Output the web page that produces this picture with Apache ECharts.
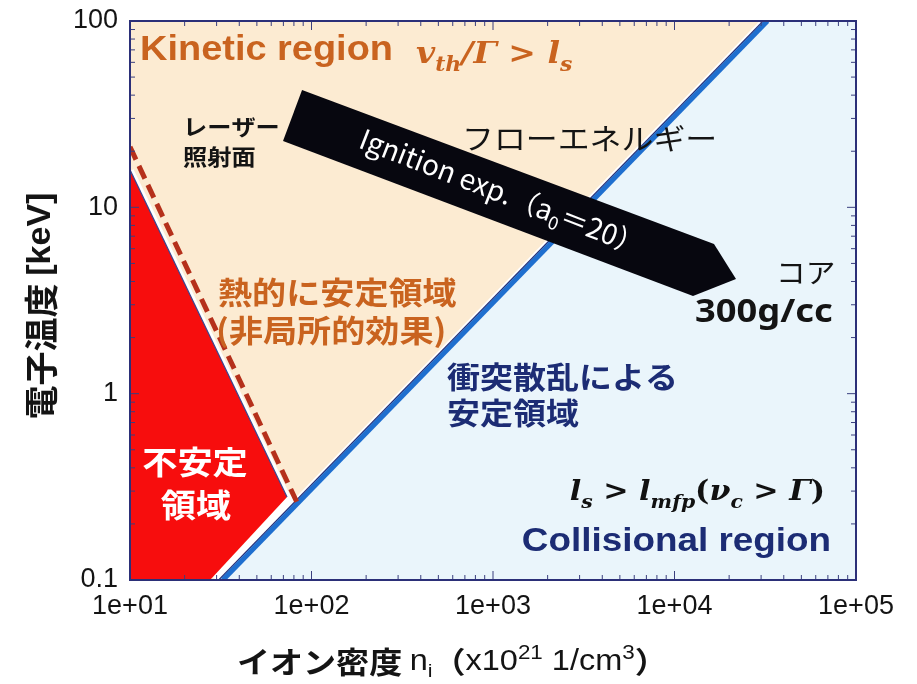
<!DOCTYPE html>
<html>
<head>
<meta charset="utf-8">
<script src="https://cdn.jsdelivr.net/npm/echarts@6/dist/echarts.min.js"></script>
<style>
  html, body { margin: 0; padding: 0; background: #ffffff; }
  #chart { width: 917px; height: 684px; }
</style>
</head>
<body>
<div id="chart"></div>
<script>
// ---- axis ticks ----
const xMajorTicks = [10, 100, 1000, 10000, 100000];
const xTickLabels = ['1e+01', '1e+02', '1e+03', '1e+04', '1e+05'];
const yMajorTicks = [0.1, 1, 10, 100];
const yTickLabels = ['0.1', '1', '10', '100'];
const minorSteps = [2, 3, 4, 5, 6, 7, 8, 9];

// ---- region boundaries, points are [n_i (x1e21 /cm3), T_e (keV)] ----
const collisionalBoundary = [[32.5, 0.1], [32500, 100]];                 // l_s = l_mfp
const collisionalRegion = [[32.5, 0.1], [32500, 100], [100000, 100], [100000, 0.1]];
const unstableRegion = [[10, 15.9], [73.3, 0.279], [27.6, 0.1], [10, 0.1]];
const unstableEdge = [[10, 15.9], [73.3, 0.279]];
const unstableFoot = [[73.3, 0.279], [27.6, 0.1]];
const nonlocalBoundary = [[10, 21.1], [83, 0.262]];                      // dashed stability limit
const ignitionArrow = [[88.7, 42.6], [16510, 6.36], [21820, 4.13], [12650, 3.34], [69.7, 22.7]];

const X_MIN = 10, X_MAX = 100000, Y_MIN = 0.1, Y_MAX = 100;

const CJK = '"Noto Sans CJK JP"';
const SANS = '"Liberation Sans", "Noto Sans CJK JP", sans-serif';
const MATH = '"DejaVu Serif", "Liberation Serif", serif';

const ORANGE = '#c9631f';
const NAVY = '#1c2c74';
const FRAME = '#2b2f78';
const SX = 1.1;   // horizontal text stretch

function shapeSeries(z, pts, build, clip) {
  return {
    type: 'custom',
    coordinateSystem: 'cartesian2d',
    silent: true,
    clip: clip !== false,
    z: z,
    data: [pts[0]],
    encode: { x: 0, y: 1 },
    renderItem: function (params, api) {
      return build(pts.map(function (p) { return api.coord(p); }), api);
    }
  };
}

function shift(pts, dx) {
  return pts.map(function (p) { return [p[0] + dx, p[1]]; });
}

function minorValues(majors) {
  const out = [];
  for (let i = 0; i < majors.length - 1; i++) {
    minorSteps.forEach(function (m) { out.push(majors[i] * m); });
  }
  return out;
}
const xMinorTicks = minorValues(xMajorTicks);
const yMinorTicks = minorValues(yMajorTicks);

const tickColor = '#3a3f7e';
const orangeShadow = { shadowBlur: 3, shadowColor: 'rgba(90,40,0,0.35)', shadowOffsetX: 1, shadowOffsetY: 1 };
const navyShadow = { shadowBlur: 3, shadowColor: 'rgba(0,0,40,0.3)', shadowOffsetX: 1, shadowOffsetY: 1 };

function label(x, y, text, font, fill, align, extra) {
  return { type: 'text', z: 100, x: x, y: y, scaleX: SX, style: Object.assign({
    text: text, font: font, fill: fill, align: align || 'left', verticalAlign: 'middle'
  }, extra || {}) };
}

const option = {
  animation: false,
  backgroundColor: '#ffffff',
  grid: {
    left: 130, right: 61, top: 21, bottom: 104,
    show: true, backgroundColor: '#fcebd2', borderWidth: 0
  },
  xAxis: {
    type: 'log', logBase: 10, min: X_MIN, max: X_MAX,
    axisLine: { show: false }, axisTick: { show: false }, splitLine: { show: false },
    axisLabel: {
      fontSize: 27, color: '#141414', fontFamily: SANS, margin: 13,
      formatter: function (v) { return xTickLabels[Math.round(Math.log10(v)) - 1] || ''; }
    }
  },
  yAxis: {
    type: 'log', logBase: 10, min: Y_MIN, max: Y_MAX,
    axisLine: { show: false }, axisTick: { show: false }, splitLine: { show: false },
    axisLabel: {
      fontSize: 27, color: '#141414', fontFamily: SANS, margin: 12,
      formatter: function (v) { return yTickLabels[Math.round(Math.log10(v)) + 1] || ''; }
    }
  },
  series: [
    // collisional (stable) region
    shapeSeries(1, collisionalRegion, function (pts) {
      return { type: 'polygon', shape: { points: pts }, style: { fill: '#eaf5fb' } };
    }),
    // white strip between the unstable region and the collisional boundary
    shapeSeries(2, unstableFoot, function (pts) {
      return { type: 'polyline', shape: { points: shift(pts, 6) }, style: { stroke: '#ffffff', lineWidth: 9, fill: null } };
    }),
    // unstable region
    shapeSeries(2, unstableRegion, function (pts) {
      return { type: 'polygon', shape: { points: pts }, style: { fill: '#f70d0d' } };
    }),
    shapeSeries(3, unstableEdge, function (pts) {
      return {
        type: 'group', children: [
          { type: 'polyline', shape: { points: shift(pts, 2.2) }, style: { stroke: '#ffffff', lineWidth: 3, fill: null } },
          { type: 'polyline', shape: { points: pts }, style: { stroke: '#3b4590', lineWidth: 1.2, fill: null } }
        ]
      };
    }),
    // collisional boundary line
    shapeSeries(3, collisionalBoundary, function (pts) {
      return {
        type: 'group', children: [
          { type: 'polyline', shape: { points: shift(pts, -6) }, style: { stroke: '#ffffff', lineWidth: 2.5, fill: null } },
          { type: 'polyline', shape: { points: shift(pts, -4.2) }, style: { stroke: '#26307a', lineWidth: 1.3, fill: null } },
          { type: 'polyline', shape: { points: pts }, style: { stroke: '#1f6fcf', lineWidth: 5, fill: null } }
        ]
      };
    }),
    // non-local stability limit
    shapeSeries(4, nonlocalBoundary, function (pts) {
      return { type: 'polyline', shape: { points: pts },
        style: { stroke: '#b5301b', lineWidth: 5, lineDash: [14, 7], fill: null } };
    }),
    // ignition experiment path
    shapeSeries(5, ignitionArrow, function (pts) {
      return { type: 'polygon', shape: { points: pts }, style: { fill: '#07070f' } };
    }),
    // minor / major ticks on all four sides
    shapeSeries(6, [[X_MIN, Y_MIN]], function (pts, api) {
      const kids = [];
      function addX(v, len) {
        const b = api.coord([v, Y_MIN]), t = api.coord([v, Y_MAX]);
        kids.push({ type: 'line', shape: { x1: b[0], y1: b[1], x2: b[0], y2: b[1] - len }, style: { stroke: tickColor, lineWidth: 1 } });
        kids.push({ type: 'line', shape: { x1: t[0], y1: t[1], x2: t[0], y2: t[1] + len }, style: { stroke: tickColor, lineWidth: 1 } });
      }
      function addY(v, len) {
        const l = api.coord([X_MIN, v]), r = api.coord([X_MAX, v]);
        kids.push({ type: 'line', shape: { x1: l[0], y1: l[1], x2: l[0] + len, y2: l[1] }, style: { stroke: tickColor, lineWidth: 1 } });
        kids.push({ type: 'line', shape: { x1: r[0], y1: r[1], x2: r[0] - len, y2: r[1] }, style: { stroke: tickColor, lineWidth: 1 } });
      }
      xMinorTicks.forEach(function (v) { addX(v, 5); });
      xMajorTicks.forEach(function (v) { addX(v, 9); });
      yMinorTicks.forEach(function (v) { addY(v, 5); });
      yMajorTicks.forEach(function (v) { addY(v, 9); });
      return { type: 'group', children: kids };
    }, false),
    // plot frame
    shapeSeries(7, [[X_MIN, Y_MIN], [X_MIN, Y_MAX], [X_MAX, Y_MAX], [X_MAX, Y_MIN]], function (pts) {
      return { type: 'polygon', shape: { points: pts }, style: { fill: null, stroke: FRAME, lineWidth: 2 } };
    }, false)
  ],
  graphic: [
    label(140, 50, 'Kinetic region', 'bold 34.5px ' + SANS, ORANGE, 'left', orangeShadow),
    { type: 'text', z: 100, x: 416, y: 55, scaleX: SX, style: {
      text: '{i|v}{s|th}{i|/Γ}{r| > }{i|l}{s|s}', fill: ORANGE, align: 'left', verticalAlign: 'middle',
      rich: {
        i: { font: 'italic bold 30px ' + MATH, fill: ORANGE, lineHeight: 34 },
        r: { font: 'bold 30px ' + MATH, fill: ORANGE, lineHeight: 34 },
        s: { font: 'italic bold 20px ' + MATH, fill: ORANGE, lineHeight: 42, verticalAlign: 'bottom' }
      } } },
    label(183, 127, 'レーザー', 'bold 22px ' + CJK, '#141414'),
    label(183, 157, '照射面', 'bold 22px ' + CJK, '#141414'),
    label(462, 139, 'フローエネルギー', '29px ' + CJK, '#141414'),
    { type: 'text', z: 100, x: 502, y: 192, rotation: -0.37, style: {
      text: '{t|Ignition exp.（a}{s|0}{t|＝20）}', fill: '#ffffff', align: 'center', verticalAlign: 'middle',
      rich: {
        t: { font: '28px ' + CJK, fill: '#ffffff', lineHeight: 30 },
        s: { font: '18px ' + CJK, fill: '#ffffff', lineHeight: 38, verticalAlign: 'bottom' }
      } } },
    label(776, 273, 'コア', '27px ' + CJK, '#141414'),
    label(695, 313, '300g/cc', 'bold 33px "Noto Sans", sans-serif', '#141414'),
    label(218, 292, '熱的に安定領域', 'bold 31px ' + CJK, ORANGE, 'left', orangeShadow),
    label(216, 330, '(非局所的効果)', 'bold 31px ' + CJK, ORANGE, 'left', orangeShadow),
    label(447, 377, '衝突散乱による', 'bold 30px ' + CJK, NAVY, 'left', navyShadow),
    label(447, 413, '安定領域', 'bold 30px ' + CJK, NAVY, 'left', navyShadow),
    { type: 'text', z: 100, x: 825, y: 493, scaleX: SX, style: {
      text: '{i|l}{s|s}{r| > }{i|l}{s|mfp}{r|(}{i|ν}{s|c}{r| > }{i|Γ}{r|)}', fill: '#111111',
      align: 'right', verticalAlign: 'middle',
      rich: {
        i: { font: 'italic bold 27.5px ' + MATH, fill: '#111111', lineHeight: 32 },
        r: { font: 'bold 27.5px ' + MATH, fill: '#111111', lineHeight: 32 },
        s: { font: 'italic bold 18.5px ' + MATH, fill: '#111111', lineHeight: 40, verticalAlign: 'bottom' }
      } } },
    label(831, 542, 'Collisional region', 'bold 33.5px ' + SANS, NAVY, 'right', navyShadow),
    label(195, 462, '不安定', 'bold 32px ' + CJK, '#ffffff', 'center'),
    label(196, 505, '領域', 'bold 32px ' + CJK, '#ffffff', 'center'),
    // axis titles
    { type: 'text', z: 100, x: 237, y: 662, scaleX: 1.12, style: {
      text: '{c|イオン密度 }{l|n}{sub|i}{c|（}{l|x10}{sup|21}{l| 1/cm}{sup|3}{c|）}',
      fill: '#141414', align: 'left', verticalAlign: 'middle',
      rich: {
        c: { font: 'bold 29.5px ' + CJK, fill: '#141414', lineHeight: 34 },
        l: { font: '29px ' + SANS, fill: '#141414', lineHeight: 34 },
        sub: { font: '19px ' + SANS, fill: '#141414', lineHeight: 37, verticalAlign: 'bottom' },
        sup: { font: '20px ' + SANS, fill: '#141414', lineHeight: 38, verticalAlign: 'top' }
      } } },
    { type: 'text', z: 100, x: 41, y: 306, rotation: Math.PI / 2, style: {
      text: '{c|電子温度 }{l|[keV]}', fill: '#141414', align: 'center', verticalAlign: 'middle',
      rich: {
        c: { font: 'bold 34px ' + CJK, fill: '#141414', lineHeight: 36 },
        l: { font: 'bold 34px ' + SANS, fill: '#141414', lineHeight: 36 }
      } } }
  ]
};

const chart = echarts.init(document.getElementById('chart'), null, { renderer: 'canvas' });
chart.setOption(option);
</script>
</body>
</html>
